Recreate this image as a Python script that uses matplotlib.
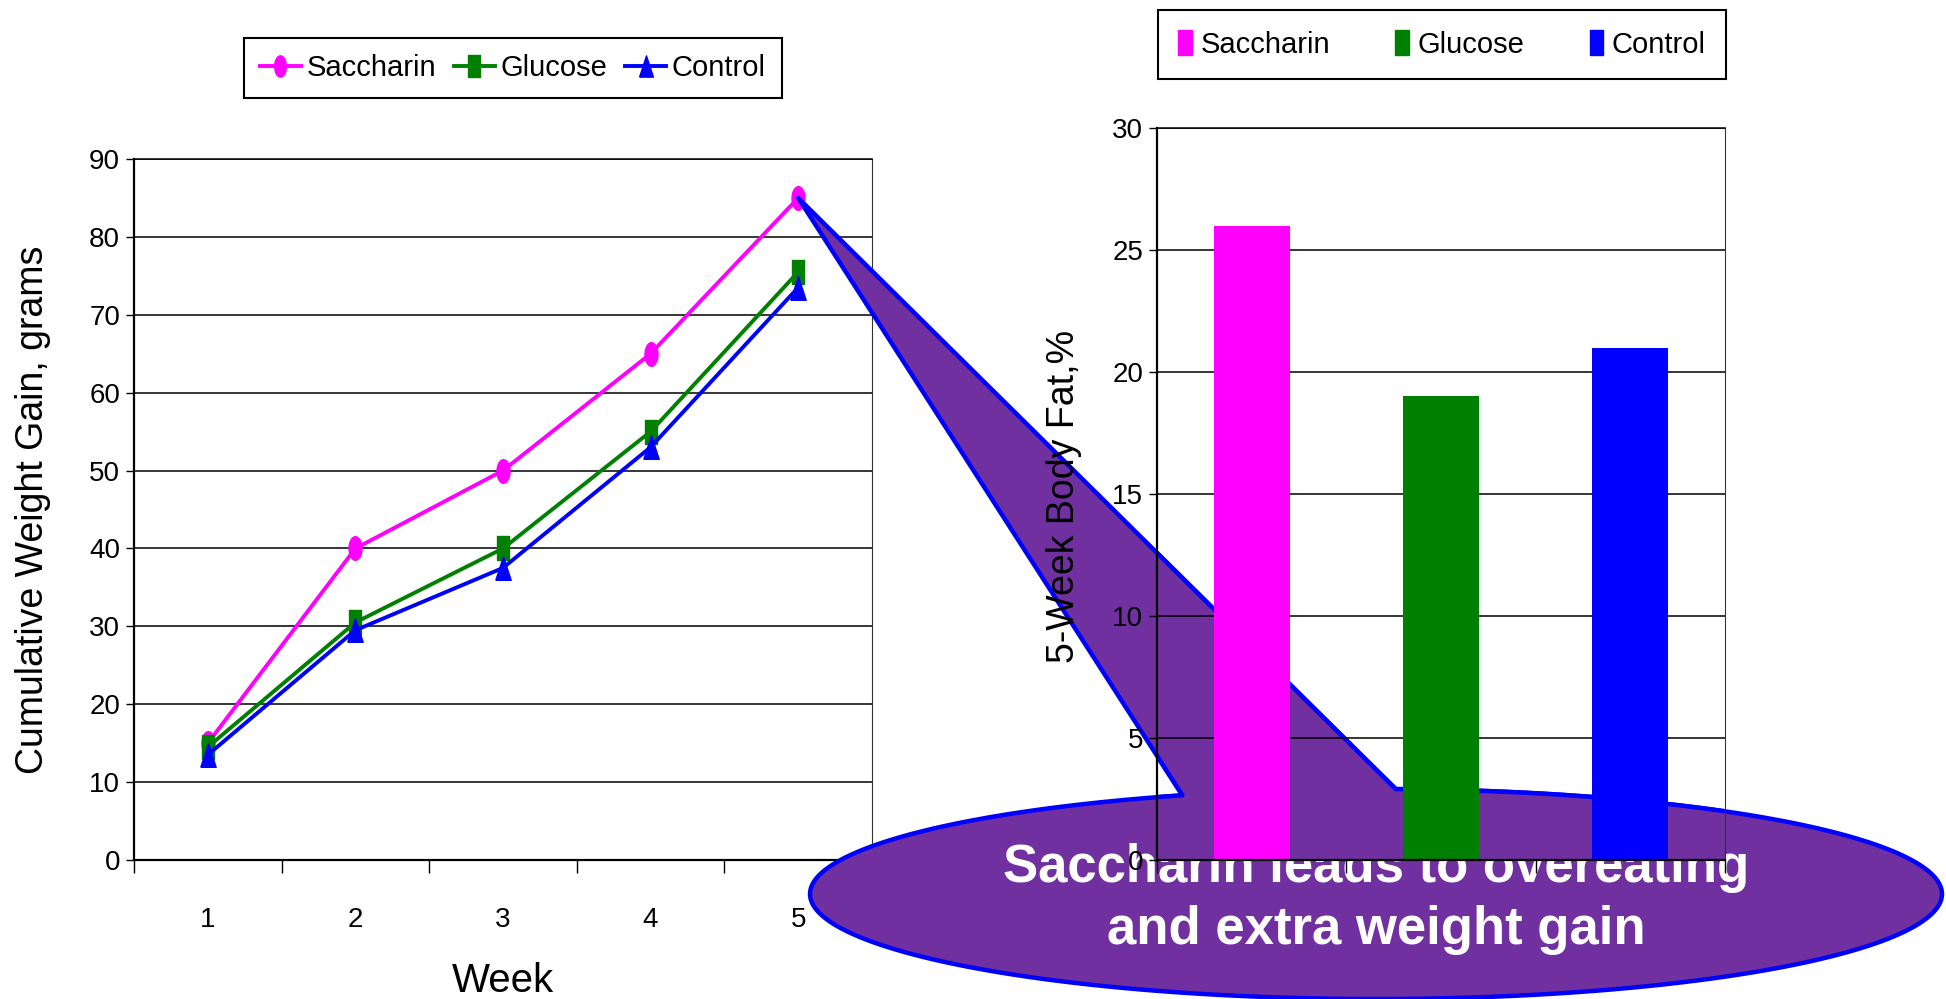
import numpy as np
import matplotlib
matplotlib.use("Agg")
import matplotlib.pyplot as plt
from matplotlib.path import Path
from matplotlib.patches import PathPatch, Patch
from matplotlib.markers import MarkerStyle

# ---- data -------------------------------------------------------------
weeks = [1, 2, 3, 4, 5]
saccharin_gain = [15, 40, 50, 65, 85]
glucose_gain = [14.5, 30.5, 40, 55, 75.5]
control_gain = [13.5, 29.5, 37.5, 53, 73.5]

groups = ["Saccharin", "Glucose", "Control"]
body_fat = [26, 19, 21]
group_colors = ["#FF00FF", "#008000", "#0000FF"]

message = "Saccharin leads to overeating\nand extra weight gain"

# ---- figure -----------------------------------------------------------
W, H = 1946, 999
fig = plt.figure(figsize=(W / 100, H / 100), dpi=100)
fig.patch.set_facecolor("white")

NARROW = ["Liberation Sans Narrow", "Liberation Sans", "DejaVu Sans"]
REG = ["Liberation Sans", "DejaVu Sans"]


def px_box(x0, y0, x1, y1):
    """Axes rectangle from pixel edges (origin top-left)."""
    return [x0 / W, 1 - y1 / H, (x1 - x0) / W, (y1 - y0) / H]


ax1 = fig.add_axes(px_box(134, 159, 872, 860))
ax2 = fig.add_axes(px_box(1157, 128, 1725, 860))
ax1.set_zorder(1)
ax2.set_zorder(4)
ax2.patch.set_alpha(0)

# tall markers
_t = np.linspace(0, 2 * np.pi, 60)
oval = MarkerStyle(Path(np.c_[0.55 * np.cos(_t), np.sin(_t)]))
tall_sq = MarkerStyle(Path([(-0.55, -1), (0.55, -1), (0.55, 1), (-0.55, 1), (-0.55, -1)]))
tall_tri = MarkerStyle(Path([(-0.65, -1), (0.65, -1), (0, 1), (-0.65, -1)]))

# ---- left: cumulative weight gain ------------------------------------
series = [
    ("Saccharin", saccharin_gain, group_colors[0], oval),
    ("Glucose", glucose_gain, group_colors[1], tall_sq),
    ("Control", control_gain, group_colors[2], tall_tri),
]
handles = []
for name, vals, col, mk in series:
    ln, = ax1.plot(weeks, vals, color=col, lw=2.8, marker=mk, markersize=17,
                   markerfacecolor=col, markeredgecolor=col, label=name,
                   zorder=3, clip_on=False)
    handles.append(ln)

ax1.set_xlim(0.5, 5.5)
ax1.set_ylim(0, 90)
ax1.set_yticks(range(0, 91, 10))
ax1.set_xticks(np.arange(0.5, 6.0, 1.0))
ax1.set_xticklabels([])
ax1.set_xticks(weeks, minor=True)
ax1.set_xticklabels([str(w) for w in weeks], minor=True, fontsize=20,
                    family=NARROW)
ax1.tick_params(axis="x", which="major", direction="out", length=9, width=1)
ax1.tick_params(axis="x", which="minor", length=0, pad=34)
ax1.tick_params(axis="y", direction="out", length=6, width=1, pad=4)
for lab in ax1.get_yticklabels():
    lab.set_fontsize(20)
    lab.set_family(NARROW)
ax1.yaxis.grid(True, color="black", lw=1.1)
ax1.set_axisbelow(True)
for s in ("left", "bottom"):
    ax1.spines[s].set_linewidth(1.6)
ax1.spines["top"].set_linewidth(1.1)
ax1.spines["right"].set_linewidth(0.8)
ax1.spines["right"].set_color("#333333")

ax1.set_xlabel("Week", fontsize=29, family=REG)
ax1.xaxis.set_label_coords(0.5, -0.146)
ax1.set_ylabel("Cumulative Weight Gain, grams", fontsize=27, family=REG)
ax1.yaxis.set_label_coords(-0.112, 0.5)

leg1 = ax1.legend(handles=handles, loc="center", ncol=3, mode="expand",
                  bbox_to_anchor=(244 / W, 1 - 99 / H, 538 / W, 62 / H),
                  bbox_transform=fig.transFigure, frameon=True,
                  fancybox=False, edgecolor="black", framealpha=1,
                  prop={"family": NARROW, "size": 21}, handlelength=1.4,
                  handletextpad=0.2, borderaxespad=0, borderpad=0.55,
                  markerscale=0.9)
leg1.get_frame().set_linewidth(1.5)

# ---- callout ----------------------------------------------------------
ELL_CX, ELL_CY, ELL_A, ELL_B = 1376, 894, 566, 105


def callout_path():
    tip = fig.transFigure.inverted().transform(
        ax1.transData.transform((weeks[-1], saccharin_gain[-1])))
    t = np.linspace(np.deg2rad(-88), np.deg2rad(250), 400)
    ex = (ELL_CX + ELL_A * np.cos(t)) / W
    ey = 1 - (ELL_CY + ELL_B * np.sin(t)) / H
    verts = np.vstack([np.c_[ex, ey], tip, [ex[0], ey[0]]])
    codes = [Path.MOVETO] + [Path.LINETO] * (len(verts) - 2) + [Path.CLOSEPOLY]
    return Path(verts, codes)


def callout_patch(z):
    return PathPatch(callout_path(), transform=fig.transFigure,
                     facecolor="#7030A0", edgecolor="#0000FF", lw=3.2,
                     joinstyle="round", zorder=z)


fig.add_artist(callout_patch(2))
fig.text(ELL_CX / W, 1 - 899 / H, message, ha="center", va="center",
         color="white", fontsize=38, fontweight="bold", family=REG,
         linespacing=1.3, zorder=3)

# ---- right: body fat --------------------------------------------------
inner = callout_patch(0.2)
ax2.add_artist(inner)
inner.set_clip_path(ax2.patch)

xpos = np.arange(len(groups))
ax2.bar(xpos, body_fat, width=0.4, color=group_colors, zorder=2)
ax2.set_xlim(-0.5, 2.5)
ax2.set_ylim(0, 30)
ax2.set_yticks(range(0, 31, 5))
ax2.set_xticks(np.arange(-0.5, 3.0, 1.0))
ax2.set_xticklabels([])
ax2.tick_params(axis="x", direction="out", length=9, width=1)
ax2.tick_params(axis="y", direction="out", length=6, width=1, pad=4)
for lab in ax2.get_yticklabels():
    lab.set_fontsize(20)
    lab.set_family(NARROW)
ax2.yaxis.grid(True, color="black", lw=1.1)
ax2.set_axisbelow(True)
for s in ("left", "bottom"):
    ax2.spines[s].set_linewidth(1.6)
ax2.spines["top"].set_linewidth(1.1)
ax2.spines["right"].set_linewidth(0.8)
ax2.spines["right"].set_color("#333333")
ax2.set_ylabel("5-Week Body Fat,%", fontsize=27, family=REG)
ax2.yaxis.set_label_coords(-0.132, 0.497)

bar_handles = [Patch(facecolor=c, edgecolor=c, label=g)
               for g, c in zip(groups, group_colors)]
leg2 = ax2.legend(handles=bar_handles, loc="center", ncol=3, mode="expand",
                  bbox_to_anchor=(1158 / W, 1 - 81 / H, 568 / W, 73 / H),
                  bbox_transform=fig.transFigure, frameon=True,
                  fancybox=False, edgecolor="black", framealpha=1,
                  prop={"family": NARROW, "size": 21}, handlelength=0.45,
                  handleheight=0.9, handletextpad=0.3, borderaxespad=0,
                  borderpad=0.7)
leg2.get_frame().set_linewidth(1.5)

fig.savefig("out.png", dpi=100, facecolor="white")
